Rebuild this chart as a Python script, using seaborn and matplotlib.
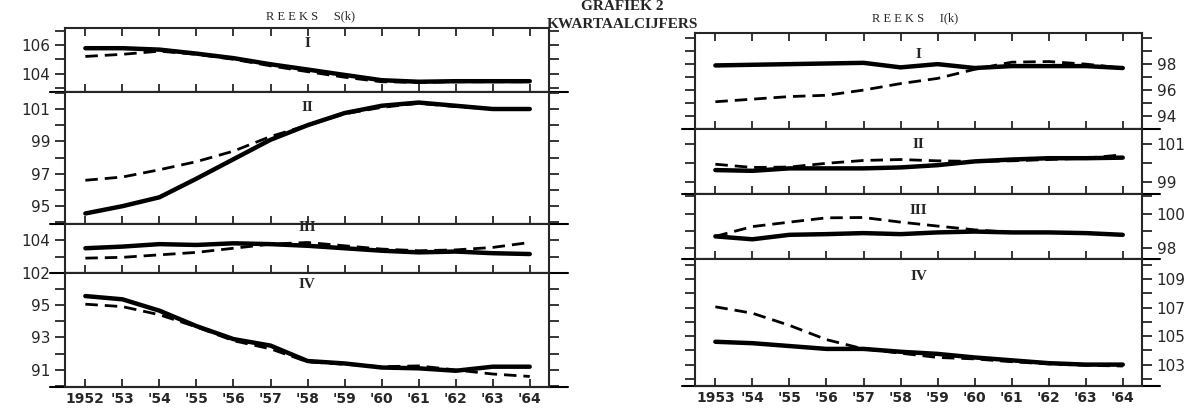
import pandas as pd
import seaborn as sns
import matplotlib.pyplot as plt
from matplotlib.ticker import FixedLocator, MultipleLocator

# --- data (GRAFIEK 2, kwartaalcijfers) ---
s_years = [1952, 1953, 1954, 1955, 1956, 1957, 1958, 1959, 1960, 1961, 1962, 1963, 1964]
s_xlabels = ["1952", "'53", "'54", "'55", "'56", "'57", "'58", "'59", "'60", "'61", "'62", "'63", "'64"]
i_years = [1953, 1954, 1955, 1956, 1957, 1958, 1959, 1960, 1961, 1962, 1963, 1964]
i_xlabels = ["1953", "'54", "'55", "'56", "'57", "'58", "'59", "'60", "'61", "'62", "'63", "'64"]

# reeks S(k)
s1_solid = [105.78, 105.78, 105.68, 105.40, 105.08, 104.65, 104.28, 103.90, 103.53, 103.42, 103.46, 103.46, 103.46]
s1_dash = [105.20, 105.35, 105.57, 105.35, 105.00, 104.54, 104.13, 103.74, 103.42, 103.38, 103.42, 103.42, 103.42]
s2_solid = [94.55, 95.00, 95.55, 96.70, 97.90, 99.10, 100.00, 100.75, 101.20, 101.40, 101.20, 101.00, 101.00]
s2_dash = [96.60, 96.80, 97.25, 97.75, 98.40, 99.30, 100.00, 100.70, 101.10, 101.35, 101.15, 101.00, 101.00]
s3_solid = [103.50, 103.60, 103.75, 103.70, 103.80, 103.75, 103.65, 103.50, 103.35, 103.25, 103.30, 103.20, 103.15]
s3_dash = [102.90, 102.95, 103.10, 103.25, 103.50, 103.75, 103.85, 103.65, 103.45, 103.35, 103.40, 103.55, 103.85]
s4_solid = [95.55, 95.35, 94.65, 93.70, 92.90, 92.50, 91.55, 91.40, 91.15, 91.10, 90.95, 91.20, 91.20]
s4_dash = [95.05, 94.90, 94.40, 93.65, 92.80, 92.30, 91.50, 91.35, 91.20, 91.25, 91.00, 90.75, 90.60]

# reeks I(k)
i1_solid = [97.90, 97.95, 98.00, 98.05, 98.10, 97.75, 98.00, 97.70, 97.85, 97.85, 97.85, 97.70]
i1_dash = [95.10, 95.30, 95.50, 95.60, 96.00, 96.50, 96.90, 97.60, 98.15, 98.20, 98.00, 97.70]
i2_solid = [99.64, 99.60, 99.73, 99.73, 99.73, 99.78, 99.90, 100.10, 100.20, 100.27, 100.27, 100.30]
i2_dash = [99.95, 99.78, 99.80, 100.00, 100.15, 100.20, 100.13, 100.10, 100.13, 100.20, 100.27, 100.45]
i3_solid = [98.67, 98.50, 98.76, 98.80, 98.86, 98.80, 98.90, 98.95, 98.90, 98.90, 98.86, 98.76]
i3_dash = [98.67, 99.24, 99.50, 99.75, 99.77, 99.50, 99.27, 99.05, 98.90, 98.90, 98.86, 98.76]
i4_solid = [104.60, 104.50, 104.30, 104.10, 104.10, 103.90, 103.75, 103.50, 103.30, 103.10, 103.00, 103.00]
i4_dash = [107.05, 106.60, 105.75, 104.75, 104.10, 103.80, 103.50, 103.40, 103.20, 103.05, 102.95, 102.90]

s_series = [(s1_solid, s1_dash), (s2_solid, s2_dash), (s3_solid, s3_dash), (s4_solid, s4_dash)]
i_series = [(i1_solid, i1_dash), (i2_solid, i2_dash), (i3_solid, i3_dash), (i4_solid, i4_dash)]

s_yticks = [[104, 106], [95, 97, 99, 101], [102, 104], [91, 93, 95]]
i_yticks = [[94, 96, 98], [99, 101], [98, 100], [103, 105, 107, 109]]
roman = ["I", "II", "III", "IV"]

# --- layout (pixels of the 1191x420 picture) ---
W, H = 1191, 420
s_box = (65, 549, [28, 92, 224, 273, 387])
i_box = (695, 1142, [33, 129, 194, 259, 386])
s_ylims = [(102.7, 107.2), (93.9, 102.05), (102.0, 104.97), (89.95, 96.97)]
i_ylims = [(93.0, 100.4), (98.37, 101.82), (97.35, 101.14), (101.5, 110.4)]
s_label_y = [0.76, 0.88, 0.93, 0.9]
i_label_y = [0.78, 0.76, 0.74, 0.86]
serif = ["Liberation Serif", "DejaVu Serif"]

sns.set_style("ticks")
plt.rcParams["font.family"] = ["DejaVu Sans"]

fig = plt.figure(figsize=(W / 100, H / 100), dpi=100)


def draw_panel(box, years, xlabels, series, yticks, ylims, label_y, side):
    x0, x1, rows = box
    n = len(series)
    for k in range(n):
        top, bot = rows[k], rows[k + 1]
        ax = fig.add_axes([x0 / W, 1 - bot / H, (x1 - x0) / W, (bot - top) / H])
        solid, dash = series[k]
        df = pd.DataFrame({"jaar": years, "solid": solid, "dash": dash})
        sns.lineplot(data=df, x="jaar", y="solid", ax=ax, color="black", lw=3.2)
        sns.lineplot(data=df, x="jaar", y="dash", ax=ax, color="black", lw=2.0,
                     linestyle=(0, (4.5, 2.5)))
        ax.set_xlim(years[0] - 0.55, years[-1] + 0.52)
        ax.set_ylim(*ylims[k])
        ax.set_xlabel("")
        ax.set_ylabel("")

        ax.yaxis.set_major_locator(FixedLocator(yticks[k]))
        ax.yaxis.set_minor_locator(MultipleLocator(1))
        ax.set_xticks(years)
        ax.tick_params(axis="y", which="both", direction="out", left=True, right=True,
                       labelleft=(side == "left"), labelright=(side == "right"),
                       width=1.3, length=7, labelsize=11)
        ax.tick_params(axis="x", direction="in", length=6, width=1.3,
                       top=(k == 0), bottom=True, labelbottom=(k == n - 1))
        if k == n - 1:
            ax.set_xticklabels(xlabels, fontsize=10, fontweight="bold")
        for sp in ax.spines.values():
            sp.set_visible(True)
            sp.set_linewidth(1.5)
        # separator line sticking out a little beyond the frame
        ax.plot([-0.03, 1.04], [0, 0], transform=ax.transAxes, color="black",
                lw=1.5, clip_on=False)
        ax.text(0.5, label_y[k], roman[k], transform=ax.transAxes, ha="center",
                va="center", fontsize=11, fontweight="bold", family=serif)


draw_panel(s_box, s_years, s_xlabels, s_series, s_yticks, s_ylims, s_label_y, "left")
draw_panel(i_box, i_years, i_xlabels, i_series, i_yticks, i_ylims, i_label_y, "right")

fig.text(310 / W, 1 - 16 / H, "R E E K S     S(k)", ha="center", va="center", fontsize=9,
         family=serif)
fig.text(915 / W, 1 - 18 / H, "R E E K S     I(k)", ha="center", va="center", fontsize=9,
         family=serif)
fig.text(622 / W, 1 - 0.5 / H, "GRAFIEK 2", ha="center", va="top", fontsize=11,
         fontweight="bold", family=serif)
fig.text(622 / W, 1 - 24 / H, "KWARTAALCIJFERS", ha="center", va="center", fontsize=11,
         fontweight="bold", family=serif)

fig.savefig("out.png", dpi=100)
